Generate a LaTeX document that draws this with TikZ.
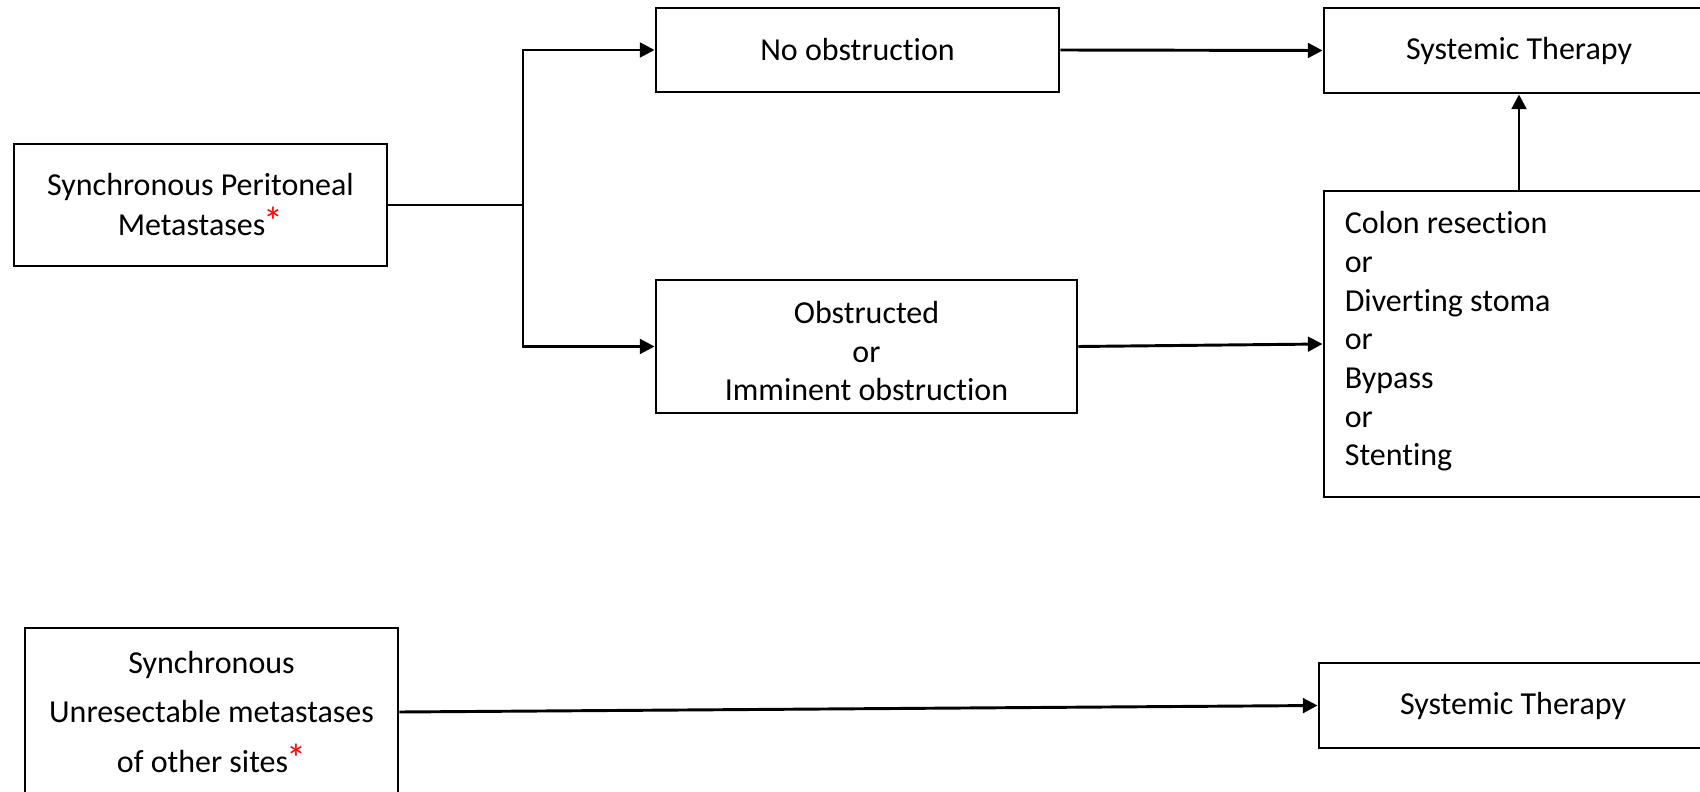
\documentclass[tikz,border=0pt]{standalone}
\usepackage{fontspec}
\setmainfont{Carlito}[Ligatures=NoCommon]
\usetikzlibrary{arrows.meta}
\newcommand{\redstar}{\kern-1.5pt{\color{red}\fontsize{30}{30}\selectfont *}}
\begin{document}
\begin{tikzpicture}[x=0.75pt,y=-0.75pt,
  font=\fontsize{24}{29}\selectfont,
  box/.style={draw,line width=2.2pt,rectangle,inner sep=0pt,align=center},
  txt/.style={inner sep=0pt},
  arr/.style={line width=2.2pt,-{Triangle[length=11pt,width=11pt]}},
  link/.style={line width=2.2pt}]
\useasboundingbox (0,0) rectangle (1700,792);
% left column
\node[box,minimum width=279.75pt,minimum height=91.5pt,
  font=\fontsize{24}{30}\selectfont] (A) at (200.5,205)
  {Synchronous Peritoneal\\Metastases\redstar};
\node[box,minimum width=279.75pt,minimum height=126pt,
  font=\fontsize{24}{37}\selectfont] (F) at (211.5,712)
  {Synchronous\\Unresectable metastases\\of other sites\redstar};
% middle column
\node[box,minimum width=302.25pt,minimum height=63pt] (B) at (857.5,50) {No obstruction};
\node[box,minimum width=315.75pt,minimum height=99.75pt] (C) at (866.5,346.5) {};
\node[txt,align=center] (Ctext) at ([yshift=-3.5pt]C.center)
  {Obstructed\\or\\Imminent obstruction};
% right column
\node[box,minimum width=292.5pt,minimum height=63.75pt] (D) at (1519,50.5) {Systemic Therapy};
\node[box,minimum width=292.5pt,minimum height=229.5pt] (E) at (1519,344) {};
\node[txt,align=left,anchor=west] (Etext) at ([xshift=16.5pt,yshift=2pt]E.west)
  {Colon resection\\or\\Diverting stoma\\or\\Bypass\\or\\Stenting};
\node[box,minimum width=291pt,minimum height=63.75pt] (G) at (1513,705.5) {Systemic Therapy};
% connectors
\coordinate (J) at (523,205);
\draw[link] (A.east) -- (J);
\draw[arr] (J) |- (B.west);
\draw[arr] (J) |- (C.west);
\draw[arr] (B.east) -- (D.west);
\draw[arr] (C.east) -- (E.west);
\draw[arr] (E.north) -- (D.south);
\draw[arr] (F.east) -- (G.west);
\end{tikzpicture}
\end{document}
